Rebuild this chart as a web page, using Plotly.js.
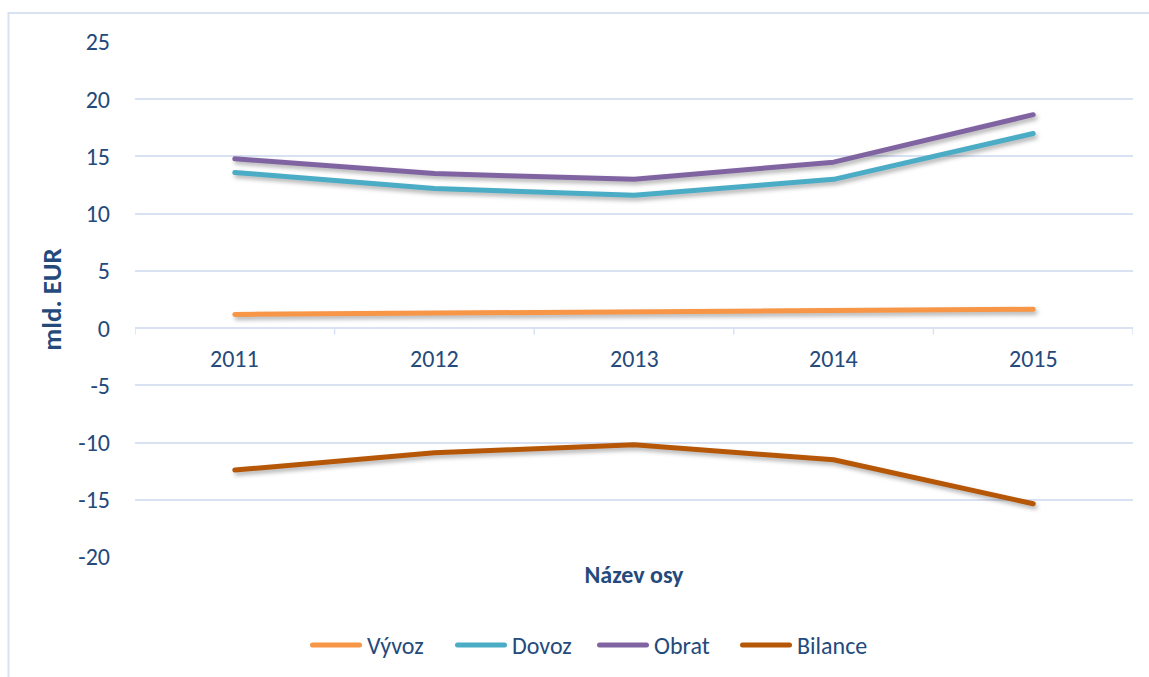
<!DOCTYPE html>
<html>
<head>
<meta charset="utf-8">
<script src="https://cdn.plot.ly/plotly-3.0.1.min.js"></script>
<style>
html,body{margin:0;padding:0;background:#fff;}
#chart{width:1149px;height:677px;}
#chart .scatterlayer path.js-line{
  stroke-linecap: round !important;
  stroke-linejoin: round !important;
  filter: drop-shadow(2px 3px 2px rgba(0,0,0,0.30));
}
#chart .layer-above path{ stroke-linecap: round; }
</style>
</head>
<body>
<div id="chart"></div>
<script>
const years = ['2011', '2012', '2013', '2014', '2015'];
const vyvoz = [1.2, 1.3, 1.4, 1.5, 1.65];
const dovoz = [13.6, 12.2, 11.6, 13.0, 17.0];
const obrat = [14.8, 13.5, 13.0, 14.5, 18.65];
const bilance = [-12.4, -10.9, -10.2, -11.5, -15.35];
const seriesNames = ['Vývoz', 'Dovoz', 'Obrat', 'Bilance'];
const seriesColors = ['#F79646', '#4BACC6', '#8064A2', '#B65708'];
const seriesData = [vyvoz, dovoz, obrat, bilance];
const yTickVals = [-20, -15, -10, -5, 0, 5, 10, 15, 20, 25];
const yTickText = ['-20', '-15', '-10', '-5', '0', '5', '10', '15', '20', '25'];

const FONT = 'Carlito, Lato, "Open Sans", sans-serif';
const FS = 24;
const TXT = '#244a7c';
const GRID = '#d9e2f3';

// plot area geometry in pixels (for paper-coordinate conversion of the custom legend)
const W = 1149, H = 677, ML = 135, MR = 16, MT = 42, MB = 120;
const PW = W - ML - MR, PH = H - MT - MB;
const px2x = p => (p - ML) / PW;
const px2y = p => (H - MB - p) / PH;

const traces = seriesData.map((vals, i) => ({
  type: 'scatter', mode: 'lines', name: seriesNames[i],
  x: years, y: vals,
  line: {color: seriesColors[i], width: 5},
  hoverinfo: 'x+y+name', showlegend: false
}));

const shapes = [];
for (let i = 0; i <= years.length; i++) {
  shapes.push({type: 'line', xref: 'x', yref: 'y', x0: i - 0.5, x1: i - 0.5,
    ysizemode: 'pixel', yanchor: 0, y0: 0, y1: -6,
    line: {color: GRID, width: 1.5}});
}
// chart frame (left and top)
shapes.push({type: 'line', xref: 'paper', yref: 'paper', x0: px2x(8.5), x1: px2x(8.5), y0: px2y(13), y1: px2y(700), line: {color: GRID, width: 2}});
shapes.push({type: 'line', xref: 'paper', yref: 'paper', x0: px2x(8.5), x1: px2x(1160), y0: px2y(13), y1: px2y(13), line: {color: GRID, width: 2}});

const annotations = years.map((y, i) => ({
  x: i, y: 0, xref: 'x', yref: 'y', text: y, showarrow: false,
  yanchor: 'top', yshift: -14, font: {family: FONT, size: FS, color: TXT}
}));

// custom legend (long line samples like the original)
const legendStarts = [310, 455, 597, 740];
const legendY = 645;
seriesNames.forEach((name, i) => {
  const x0 = legendStarts[i];
  shapes.push({type: 'line', xref: 'paper', yref: 'paper',
    x0: px2x(x0 + 2.5), x1: px2x(x0 + 49.5), y0: px2y(legendY), y1: px2y(legendY),
    line: {color: seriesColors[i], width: 5}});
  annotations.push({xref: 'paper', yref: 'paper', x: px2x(x0 + 55), y: px2y(legendY),
    xanchor: 'left', yanchor: 'middle', text: name, showarrow: false,
    font: {family: FONT, size: FS, color: TXT}});
});

const layout = {
  width: W, height: H,
  margin: {l: ML, r: MR, t: MT, b: MB},
  paper_bgcolor: '#fff', plot_bgcolor: '#fff',
  font: {family: FONT, size: FS, color: TXT},
  showlegend: false,
  xaxis: {
    type: 'category', range: [-0.5, 4.5], showticklabels: false, showgrid: false,
    zeroline: false, showline: false, ticks: '',
    title: {text: '<b>Název osy</b>', font: {family: FONT, size: FS, color: TXT}, standoff: 9}
  },
  yaxis: {
    range: [-20, 25], tickmode: 'array', tickvals: yTickVals, ticktext: yTickText,
    showgrid: true, gridcolor: GRID, gridwidth: 1.5,
    zeroline: true, zerolinecolor: GRID, zerolinewidth: 1.5, showline: false, ticks: '',
    ticklabelstandoff: 24,
    tickfont: {family: FONT, size: FS, color: TXT},
    title: {text: '<b>mld. EUR</b>', font: {family: FONT, size: 27, color: TXT}, standoff: 8}
  },
  shapes: shapes,
  annotations: annotations
};

Plotly.newPlot('chart', traces, layout, {displayModeBar: false});
</script>
</body>
</html>
